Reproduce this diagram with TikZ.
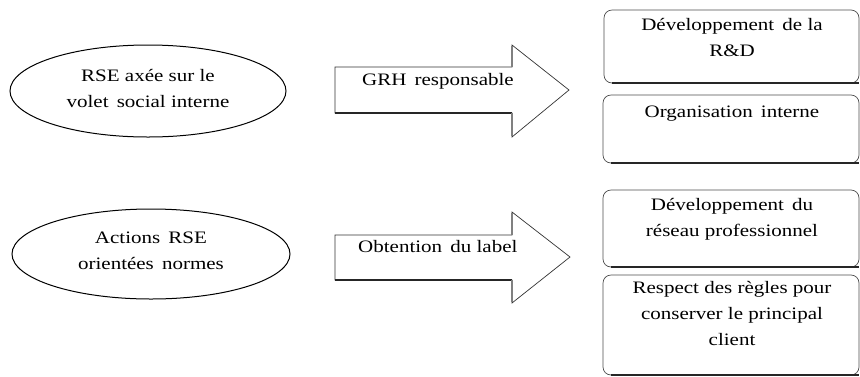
\documentclass[tikz,border=0pt]{standalone}
\usepackage{fontspec}
\setmainfont[FakeStretch=1.2]{Liberation Serif}
\begin{document}
\begin{tikzpicture}[x=1pt,y=-1pt,
  txt/.style={font=\fontsize{17.5}{26}\selectfont, align=center, inner sep=0pt},
  oval/.style={draw, line width=1pt},
  rbox/.style={draw=black!70, line width=0.7pt, rounded corners=8pt},
  shade/.style={line width=2.2pt, black!85}]
\useasboundingbox (0,0) rectangle (860,376);
% ellipses
\draw[oval] (148,91) ellipse [x radius=138, y radius=46];
\node[txt] (e1) at (148,88) {RSE axée sur le\\volet\, social interne};
\draw[oval] (151,254) ellipse [x radius=139, y radius=45];
\node[txt] (e2) at (151,251) {Actions\, RSE\\orientées\, normes};
% arrows
\draw[black!80, line width=0.7pt, fill=white] (335,67) -- (512,67) -- (512,45) -- (569,90) -- (512,137) -- (512,113) -- (335,113) -- cycle;
\draw[shade] (335,113) -- (512,113);
\draw[black!50, line width=2pt] (512,46) -- (512,67) (512,113) -- (512,136);
\node[txt, anchor=west] (a1) at (362,81) {GRH\, responsable};
\draw[black!80, line width=0.7pt, fill=white] (335,235) -- (512,235) -- (512,212) -- (570,257) -- (512,303) -- (512,280) -- (335,280) -- cycle;
\draw[shade] (335,280) -- (512,280);
\draw[black!50, line width=2pt] (512,213) -- (512,235) (512,280) -- (512,302);
\node[txt, anchor=west] (a2) at (358,247) {Obtention\, du label};
% boxes
\draw[rbox] (604,10) rectangle (859,83);
\draw[shade] (612,83) -- (859,83);
\node[txt, anchor=north] (b1) at (732,18) {Développement\, de la\\R\&D};
\draw[rbox] (603,95) rectangle (859,163);
\draw[shade] (611,163) -- (859,163);
\node[txt, anchor=north] (b2) at (732,106) {Organisation\, interne};
\draw[rbox] (603,190) rectangle (859,267);
\draw[shade] (611,267) -- (859,267);
\node[txt, anchor=north] (b3) at (732,198) {Développement\, du\\réseau professionnel};
\draw[rbox] (603,275) rectangle (859,375);
\draw[shade] (611,375) -- (859,375);
\node[txt, anchor=north] (b4) at (732,281) {Respect des règles pour\\conserver le principal\\client};
\end{tikzpicture}
\end{document}
